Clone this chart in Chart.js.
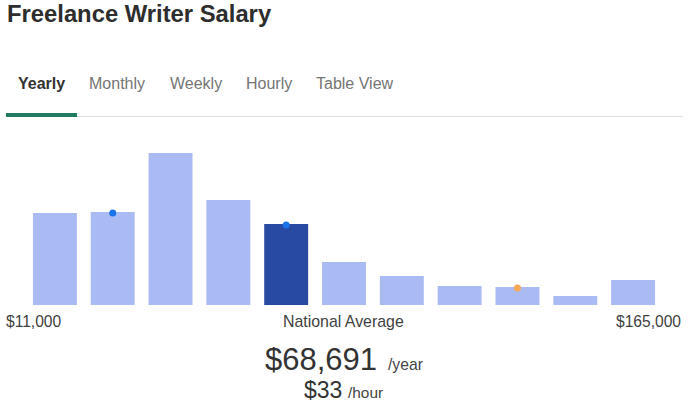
<!DOCTYPE html>
<html lang="en">
<head>
    <meta charset="UTF-8">
    <title>Freelance Writer Salary</title>
    <script src="https://cdn.jsdelivr.net/npm/chart.js"></script>
    <style>
        body { margin: 0; width: 693px; height: 406px; background: #fff; font-family: "Liberation Sans", Arial, sans-serif; position: relative; overflow: hidden; }
        .t { position: absolute; line-height: 1; white-space: nowrap; }
        #title { left: 7px; top: 2.2px; font-size: 23.8px; font-weight: bold; color: #2d2d2d; }
        .tab { top: 75.5px; font-size: 16px; color: #757575; }
        .tab.active { font-weight: bold; color: #333; }
        #tabLine { position: absolute; left: 6px; width: 677px; top: 116px; height: 1px; background: #ddd; }
        #tabActive { position: absolute; left: 6px; width: 71px; top: 113px; height: 4px; background: #237a63; }
        #chartBox { position: absolute; left: 26px; top: 150px; width: 636px; height: 155px; }
        .lbl { top: 313.8px; font-size: 15.6px; color: #3f3f3f; }
    </style>
</head>
<body>
    <div id="title" class="t">Freelance Writer Salary</div>
    <div class="t tab active" style="left:18px">Yearly</div>
    <div class="t tab" style="left:89px">Monthly</div>
    <div class="t tab" style="left:170px">Weekly</div>
    <div class="t tab" style="left:246px">Hourly</div>
    <div class="t tab" style="left:316px">Table View</div>
    <div id="tabLine"></div>
    <div id="tabActive"></div>

    <div id="chartBox"><canvas id="salaryChart"></canvas></div>

    <div class="t lbl" style="left:6px">$11,000</div>
    <div class="t lbl" style="left:283px; font-size:15.9px">National Average</div>
    <div class="t lbl" style="right:12px">$165,000</div>
    <div class="t" style="left:265px; top:343.8px; font-size:31px; color:#333">$68,691</div>
    <div class="t" style="left:388px; top:356.7px; font-size:15.7px; color:#444">/year</div>
    <div class="t" style="left:304px; top:378.5px; font-size:23px; color:#333">$33</div>
    <div class="t" style="left:348px; top:385px; font-size:15.4px; color:#444">/hour</div>

    <script>
        // salary distribution buckets, $11,000 .. $165,000
        const buckets = ['b1', 'b2', 'b3', 'b4', 'b5', 'b6', 'b7', 'b8', 'b9', 'b10', 'b11'];
        const counts = [92, 93, 152, 105, 81, 43, 29, 19, 18, 9, 25];
        const averageIndex = 4;
        // markers sitting on top of some bars
        const markers = [null, 92, null, null, 80, null, null, null, 17, null, null];
        const markerColors = ['#1a73e8', '#1a73e8', '#1a73e8', '#1a73e8', '#1a73e8', '#1a73e8', '#1a73e8', '#1a73e8', '#f6a85a', '#1a73e8', '#1a73e8'];

        const ctx = document.getElementById('salaryChart').getContext('2d');
        new Chart(ctx, {
            type: 'bar',
            data: {
                labels: buckets,
                datasets: [{
                    type: 'line',
                    data: markers,
                    showLine: false,
                    pointRadius: 3.5,
                    pointBorderWidth: 0,
                    pointBackgroundColor: markerColors,
                    order: 0
                }, {
                    data: counts,
                    backgroundColor: counts.map((v, i) => i === averageIndex ? '#284aa3' : '#aabbf3'),
                    barPercentage: 0.76,
                    categoryPercentage: 1,
                    order: 1
                }]
            },
            options: {
                responsive: true,
                maintainAspectRatio: false,
                animation: false,
                layout: { padding: 0, autoPadding: false },
                plugins: { legend: { display: false }, tooltip: { enabled: false } },
                scales: {
                    x: { display: false },
                    y: { display: false, min: 0, max: 155 }
                }
            }
        });
    </script>
</body>
</html>
